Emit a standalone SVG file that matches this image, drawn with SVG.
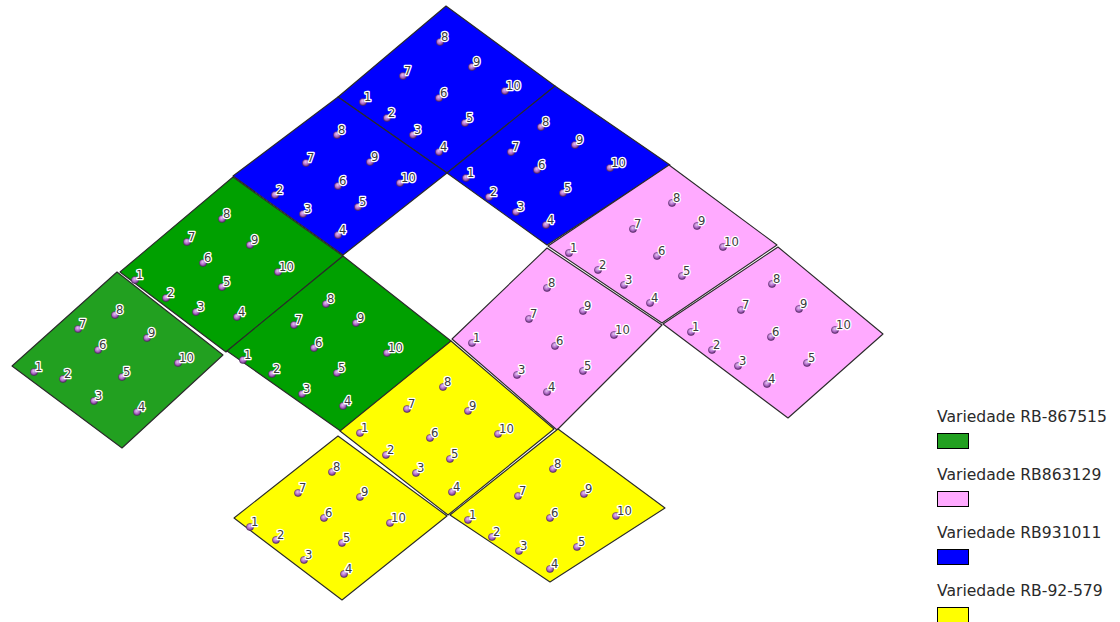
<svg xmlns="http://www.w3.org/2000/svg" xmlns:xlink="http://www.w3.org/1999/xlink" width="1120" height="622" viewBox="0 0 1120 622">
<defs>
<radialGradient id="dg" cx="45%" cy="35%" r="65%">
<stop offset="0" stop-color="#e6c2f2"/>
<stop offset="0.55" stop-color="#b06cc8"/>
<stop offset="1" stop-color="#5e2c72"/>
</radialGradient>
<circle id="dot" r="3.6" fill="url(#dg)" stroke="#4a2458" stroke-width="0.5"/>
</defs>
<style>
.plot{stroke:#2a2a2a;stroke-width:1.1;stroke-linejoin:round}
.blue{fill:#0000ff}
.green{fill:#00a000}
.green2{fill:#22a020}
.pink{fill:#ffaaff}
.yellow{fill:#ffff00}
.lb{font-family:"DejaVu Sans",Verdana,sans-serif;font-size:11.6px;fill:#3a3a3a;stroke:#ffffff;stroke-width:2.6;stroke-linejoin:round;paint-order:stroke}
.lg{font-family:"DejaVu Sans",Verdana,sans-serif;font-size:15.6px;fill:#2a2a2a}
.sw{stroke:#000;stroke-width:1}
</style>
<rect width="1120" height="622" fill="#ffffff"/>

<g id="plot-B1">
<polygon class="plot blue" points="446,6 555,86 447,173 338,97"/>
<use href="#dot" x="440" y="42"/><text class="lb" x="441" y="41">8</text>
<use href="#dot" x="472" y="67"/><text class="lb" x="473" y="66">9</text>
<use href="#dot" x="403" y="76"/><text class="lb" x="404" y="75">7</text>
<use href="#dot" x="505" y="91"/><text class="lb" x="506" y="90">10</text>
<use href="#dot" x="363" y="102"/><text class="lb" x="364" y="101">1</text>
<use href="#dot" x="439" y="98"/><text class="lb" x="440" y="97">6</text>
<use href="#dot" x="387" y="118"/><text class="lb" x="388" y="117">2</text>
<use href="#dot" x="465" y="123"/><text class="lb" x="466" y="122">5</text>
<use href="#dot" x="413" y="135"/><text class="lb" x="414" y="134">3</text>
<use href="#dot" x="439" y="152"/><text class="lb" x="440" y="151">4</text>
</g>

<g id="plot-B2">
<polygon class="plot blue" points="338,97 447,173 343,255 233,176"/>
<use href="#dot" x="337" y="135"/><text class="lb" x="338" y="134">8</text>
<use href="#dot" x="306" y="163"/><text class="lb" x="307" y="162">7</text>
<use href="#dot" x="370" y="162"/><text class="lb" x="371" y="161">9</text>
<use href="#dot" x="338" y="186"/><text class="lb" x="339" y="185">6</text>
<use href="#dot" x="400" y="183"/><text class="lb" x="401" y="182">10</text>
<use href="#dot" x="275" y="195"/><text class="lb" x="276" y="194">2</text>
<use href="#dot" x="358" y="207"/><text class="lb" x="359" y="206">5</text>
<use href="#dot" x="303" y="214"/><text class="lb" x="304" y="213">3</text>
<use href="#dot" x="338" y="235"/><text class="lb" x="339" y="234">4</text>
</g>

<g id="plot-B3">
<polygon class="plot blue" points="555,86 670,165 547,245 447,173"/>
<use href="#dot" x="541" y="127"/><text class="lb" x="542" y="126">8</text>
<use href="#dot" x="511" y="152"/><text class="lb" x="512" y="151">7</text>
<use href="#dot" x="575" y="145"/><text class="lb" x="576" y="144">9</text>
<use href="#dot" x="537" y="170"/><text class="lb" x="538" y="169">6</text>
<use href="#dot" x="610" y="168"/><text class="lb" x="611" y="167">10</text>
<use href="#dot" x="466" y="178"/><text class="lb" x="467" y="177">1</text>
<use href="#dot" x="563" y="193"/><text class="lb" x="564" y="192">5</text>
<use href="#dot" x="489" y="197"/><text class="lb" x="490" y="196">2</text>
<use href="#dot" x="516" y="212"/><text class="lb" x="517" y="211">3</text>
<use href="#dot" x="546" y="225"/><text class="lb" x="547" y="224">4</text>
</g>

<g id="plot-P1">
<polygon class="plot pink" points="669,165 777,245 662,323 548,246"/>
<use href="#dot" x="672" y="203"/><text class="lb" x="673" y="202">8</text>
<use href="#dot" x="633" y="229"/><text class="lb" x="634" y="228">7</text>
<use href="#dot" x="697" y="226"/><text class="lb" x="698" y="225">9</text>
<use href="#dot" x="569" y="253"/><text class="lb" x="570" y="252">1</text>
<use href="#dot" x="657" y="256"/><text class="lb" x="658" y="255">6</text>
<use href="#dot" x="723" y="247"/><text class="lb" x="724" y="246">10</text>
<use href="#dot" x="598" y="270"/><text class="lb" x="599" y="269">2</text>
<use href="#dot" x="682" y="276"/><text class="lb" x="683" y="275">5</text>
<use href="#dot" x="624" y="285"/><text class="lb" x="625" y="284">3</text>
<use href="#dot" x="650" y="303"/><text class="lb" x="651" y="302">4</text>
</g>

<g id="plot-P2">
<polygon class="plot pink" points="778,247 883,334 788,418 663,324"/>
<use href="#dot" x="772" y="284"/><text class="lb" x="773" y="283">8</text>
<use href="#dot" x="741" y="310"/><text class="lb" x="742" y="309">7</text>
<use href="#dot" x="799" y="309"/><text class="lb" x="800" y="308">9</text>
<use href="#dot" x="691" y="332"/><text class="lb" x="692" y="331">1</text>
<use href="#dot" x="771" y="337"/><text class="lb" x="772" y="336">6</text>
<use href="#dot" x="835" y="330"/><text class="lb" x="836" y="329">10</text>
<use href="#dot" x="712" y="350"/><text class="lb" x="713" y="349">2</text>
<use href="#dot" x="807" y="363"/><text class="lb" x="808" y="362">5</text>
<use href="#dot" x="738" y="366"/><text class="lb" x="739" y="365">3</text>
<use href="#dot" x="767" y="384"/><text class="lb" x="768" y="383">4</text>
</g>

<g id="plot-P3">
<polygon class="plot pink" points="547,248 662,325 557,430 452,339"/>
<use href="#dot" x="547" y="288"/><text class="lb" x="548" y="287">8</text>
<use href="#dot" x="529" y="319"/><text class="lb" x="530" y="318">7</text>
<use href="#dot" x="583" y="311"/><text class="lb" x="584" y="310">9</text>
<use href="#dot" x="472" y="343"/><text class="lb" x="473" y="342">1</text>
<use href="#dot" x="555" y="346"/><text class="lb" x="556" y="345">6</text>
<use href="#dot" x="614" y="335"/><text class="lb" x="615" y="334">10</text>
<use href="#dot" x="517" y="375"/><text class="lb" x="518" y="374">3</text>
<use href="#dot" x="583" y="371"/><text class="lb" x="584" y="370">5</text>
<use href="#dot" x="547" y="392"/><text class="lb" x="548" y="391">4</text>
</g>

<g id="plot-G1">
<polygon class="plot green" points="233,177 343,256 226,352 120,272"/>
<use href="#dot" x="222" y="219"/><text class="lb" x="223" y="218">8</text>
<use href="#dot" x="187" y="242"/><text class="lb" x="188" y="241">7</text>
<use href="#dot" x="250" y="245"/><text class="lb" x="251" y="244">9</text>
<use href="#dot" x="203" y="263"/><text class="lb" x="204" y="262">6</text>
<use href="#dot" x="135" y="280"/><text class="lb" x="136" y="279">1</text>
<use href="#dot" x="278" y="272"/><text class="lb" x="279" y="271">10</text>
<use href="#dot" x="222" y="287"/><text class="lb" x="223" y="286">5</text>
<use href="#dot" x="166" y="298"/><text class="lb" x="167" y="297">2</text>
<use href="#dot" x="196" y="312"/><text class="lb" x="197" y="311">3</text>
<use href="#dot" x="237" y="317"/><text class="lb" x="238" y="316">4</text>
</g>

<g id="plot-G2">
<polygon class="plot green2" points="117,272 223,355 122,448 12,366"/>
<use href="#dot" x="115" y="315"/><text class="lb" x="116" y="314">8</text>
<use href="#dot" x="78" y="329"/><text class="lb" x="79" y="328">7</text>
<use href="#dot" x="147" y="338"/><text class="lb" x="148" y="337">9</text>
<use href="#dot" x="98" y="350"/><text class="lb" x="99" y="349">6</text>
<use href="#dot" x="34" y="372"/><text class="lb" x="35" y="371">1</text>
<use href="#dot" x="178" y="363"/><text class="lb" x="179" y="362">10</text>
<use href="#dot" x="63" y="379"/><text class="lb" x="64" y="378">2</text>
<use href="#dot" x="122" y="377"/><text class="lb" x="123" y="376">5</text>
<use href="#dot" x="94" y="401"/><text class="lb" x="95" y="400">3</text>
<use href="#dot" x="137" y="412"/><text class="lb" x="138" y="411">4</text>
</g>

<g id="plot-G3">
<polygon class="plot green" points="343,256 451,341 342,432 227,351"/>
<use href="#dot" x="326" y="304"/><text class="lb" x="327" y="303">8</text>
<use href="#dot" x="294" y="325"/><text class="lb" x="295" y="324">7</text>
<use href="#dot" x="356" y="323"/><text class="lb" x="357" y="322">9</text>
<use href="#dot" x="314" y="348"/><text class="lb" x="315" y="347">6</text>
<use href="#dot" x="243" y="360"/><text class="lb" x="244" y="359">1</text>
<use href="#dot" x="387" y="353"/><text class="lb" x="388" y="352">10</text>
<use href="#dot" x="337" y="373"/><text class="lb" x="338" y="372">5</text>
<use href="#dot" x="272" y="374"/><text class="lb" x="273" y="373">2</text>
<use href="#dot" x="302" y="394"/><text class="lb" x="303" y="393">3</text>
<use href="#dot" x="343" y="406"/><text class="lb" x="344" y="405">4</text>
</g>

<g id="plot-Y1">
<polygon class="plot yellow" points="451,341 554,429 448,515 340,431"/>
<use href="#dot" x="443" y="387"/><text class="lb" x="444" y="386">8</text>
<use href="#dot" x="407" y="409"/><text class="lb" x="408" y="408">7</text>
<use href="#dot" x="468" y="411"/><text class="lb" x="469" y="410">9</text>
<use href="#dot" x="360" y="433"/><text class="lb" x="361" y="432">1</text>
<use href="#dot" x="430" y="438"/><text class="lb" x="431" y="437">6</text>
<use href="#dot" x="498" y="434"/><text class="lb" x="499" y="433">10</text>
<use href="#dot" x="386" y="455"/><text class="lb" x="387" y="454">2</text>
<use href="#dot" x="450" y="459"/><text class="lb" x="451" y="458">5</text>
<use href="#dot" x="416" y="473"/><text class="lb" x="417" y="472">3</text>
<use href="#dot" x="452" y="492"/><text class="lb" x="453" y="491">4</text>
</g>

<g id="plot-Y2">
<polygon class="plot yellow" points="338,436 447,516 342,600 234,518"/>
<use href="#dot" x="332" y="472"/><text class="lb" x="333" y="471">8</text>
<use href="#dot" x="298" y="493"/><text class="lb" x="299" y="492">7</text>
<use href="#dot" x="360" y="497"/><text class="lb" x="361" y="496">9</text>
<use href="#dot" x="324" y="518"/><text class="lb" x="325" y="517">6</text>
<use href="#dot" x="390" y="523"/><text class="lb" x="391" y="522">10</text>
<use href="#dot" x="250" y="527"/><text class="lb" x="251" y="526">1</text>
<use href="#dot" x="342" y="543"/><text class="lb" x="343" y="542">5</text>
<use href="#dot" x="276" y="540"/><text class="lb" x="277" y="539">2</text>
<use href="#dot" x="304" y="560"/><text class="lb" x="305" y="559">3</text>
<use href="#dot" x="344" y="574"/><text class="lb" x="345" y="573">4</text>
</g>

<g id="plot-Y3">
<polygon class="plot yellow" points="558,429 665,508 550,582 450,515"/>
<use href="#dot" x="553" y="469"/><text class="lb" x="554" y="468">8</text>
<use href="#dot" x="518" y="496"/><text class="lb" x="519" y="495">7</text>
<use href="#dot" x="584" y="494"/><text class="lb" x="585" y="493">9</text>
<use href="#dot" x="550" y="518"/><text class="lb" x="551" y="517">6</text>
<use href="#dot" x="616" y="516"/><text class="lb" x="617" y="515">10</text>
<use href="#dot" x="468" y="520"/><text class="lb" x="469" y="519">1</text>
<use href="#dot" x="577" y="547"/><text class="lb" x="578" y="546">5</text>
<use href="#dot" x="492" y="537"/><text class="lb" x="493" y="536">2</text>
<use href="#dot" x="519" y="551"/><text class="lb" x="520" y="550">3</text>
<use href="#dot" x="550" y="569"/><text class="lb" x="551" y="568">4</text>
</g>

<g id="legend">
<text class="lg" x="937" y="422">Variedade RB-867515</text>
<rect class="sw" x="937.5" y="433.5" width="31" height="15" fill="#22a020"/>
<text class="lg" x="937" y="480">Variedade RB863129</text>
<rect class="sw" x="937.5" y="491.5" width="31" height="15" fill="#ffaaff"/>
<text class="lg" x="937" y="538">Variedade RB931011</text>
<rect class="sw" x="937.5" y="549.5" width="31" height="15" fill="#0000ff"/>
<text class="lg" x="937" y="596">Variedade RB-92-579</text>
<rect class="sw" x="937.5" y="607.5" width="31" height="15" fill="#ffff00"/>
</g>
</svg>
